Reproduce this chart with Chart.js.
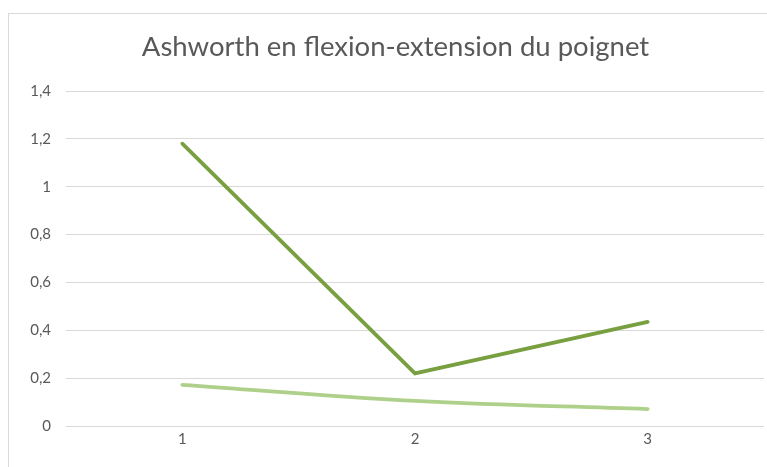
<!DOCTYPE html>
<html>
<head>
<meta charset="utf-8">
<script src="https://cdn.jsdelivr.net/npm/chart.js@4.4.0/dist/chart.umd.min.js"></script>
<style>
    html, body { margin: 0; padding: 0; background: #fff; overflow: hidden; }
    #frame {
        position: absolute;
        left: 8px;
        top: 13px;
        width: 800px;
        height: 500px;
        border: 1px solid #d9d9d9;
        box-sizing: border-box;
    }
    #chart-wrap {
        position: absolute;
        left: 8px;
        top: 13px;
        width: 775px;
        height: 454px;
    }
</style>
</head>
<body>
<div id="frame"></div>
<div id="chart-wrap"><canvas id="chart"></canvas></div>
<script>
// Daten
const categories = ['1', '2', '3'];
const seriesDark = [1.18, 0.22, 0.435];
const seriesLight = [0.172, 0.105, 0.071];
const yTicks = [0, 0.2, 0.4, 0.6, 0.8, 1, 1.2, 1.4];

const textColor = '#595959';
const gridColor = '#d9d9d9';

new Chart(document.getElementById('chart'), {
    type: 'line',
    data: {
        labels: categories,
        datasets: [
            {
                label: 'Série 1',
                data: seriesDark,
                borderColor: '#78a040',
                borderWidth: 3.75,
                pointRadius: 0,
                tension: 0,
                borderCapStyle: 'round'
            },
            {
                label: 'Série 2',
                data: seriesLight,
                borderColor: '#afd08b',
                borderWidth: 3.75,
                pointRadius: 0,
                tension: 0.4,
                borderCapStyle: 'round'
            }
        ]
    },
    options: {
        responsive: true,
        maintainAspectRatio: false,
        animation: false,
        // gleiche Polsterung links/rechts, damit der Titel mittig sitzt
        layout: { padding: { left: 19, right: 19, top: 0, bottom: 0 } },
        plugins: {
            legend: { display: false },
            tooltip: { enabled: false },
            title: {
                display: true,
                text: 'Ashworth en flexion-extension du poignet',
                color: textColor,
                font: { family: 'Lato', size: 27.5, weight: 'normal' },
                padding: { top: 18, bottom: 27 }
            }
        },
        scales: {
            x: {
                offset: true,
                grid: { display: false, drawTicks: false },
                border: { display: false },
                ticks: {
                    color: textColor,
                    font: { family: 'Lato', size: 15 },
                    padding: 4
                },
                afterFit: (scale) => { scale.height = 41; }
            },
            y: {
                min: 0,
                max: 1.4,
                afterBuildTicks: (scale) => {
                    scale.ticks = yTicks.map((v) => ({ value: v }));
                },
                grid: { color: gridColor, lineWidth: 1, drawTicks: false },
                border: { display: false },
                ticks: {
                    color: textColor,
                    font: { family: 'Lato', size: 15 },
                    padding: 15,
                    callback: (v) => (Math.round(v * 10) / 10).toString().replace('.', ',')
                },
                afterFit: (scale) => { scale.width = 39; }
            }
        }
    }
});
</script>
</body>
</html>
